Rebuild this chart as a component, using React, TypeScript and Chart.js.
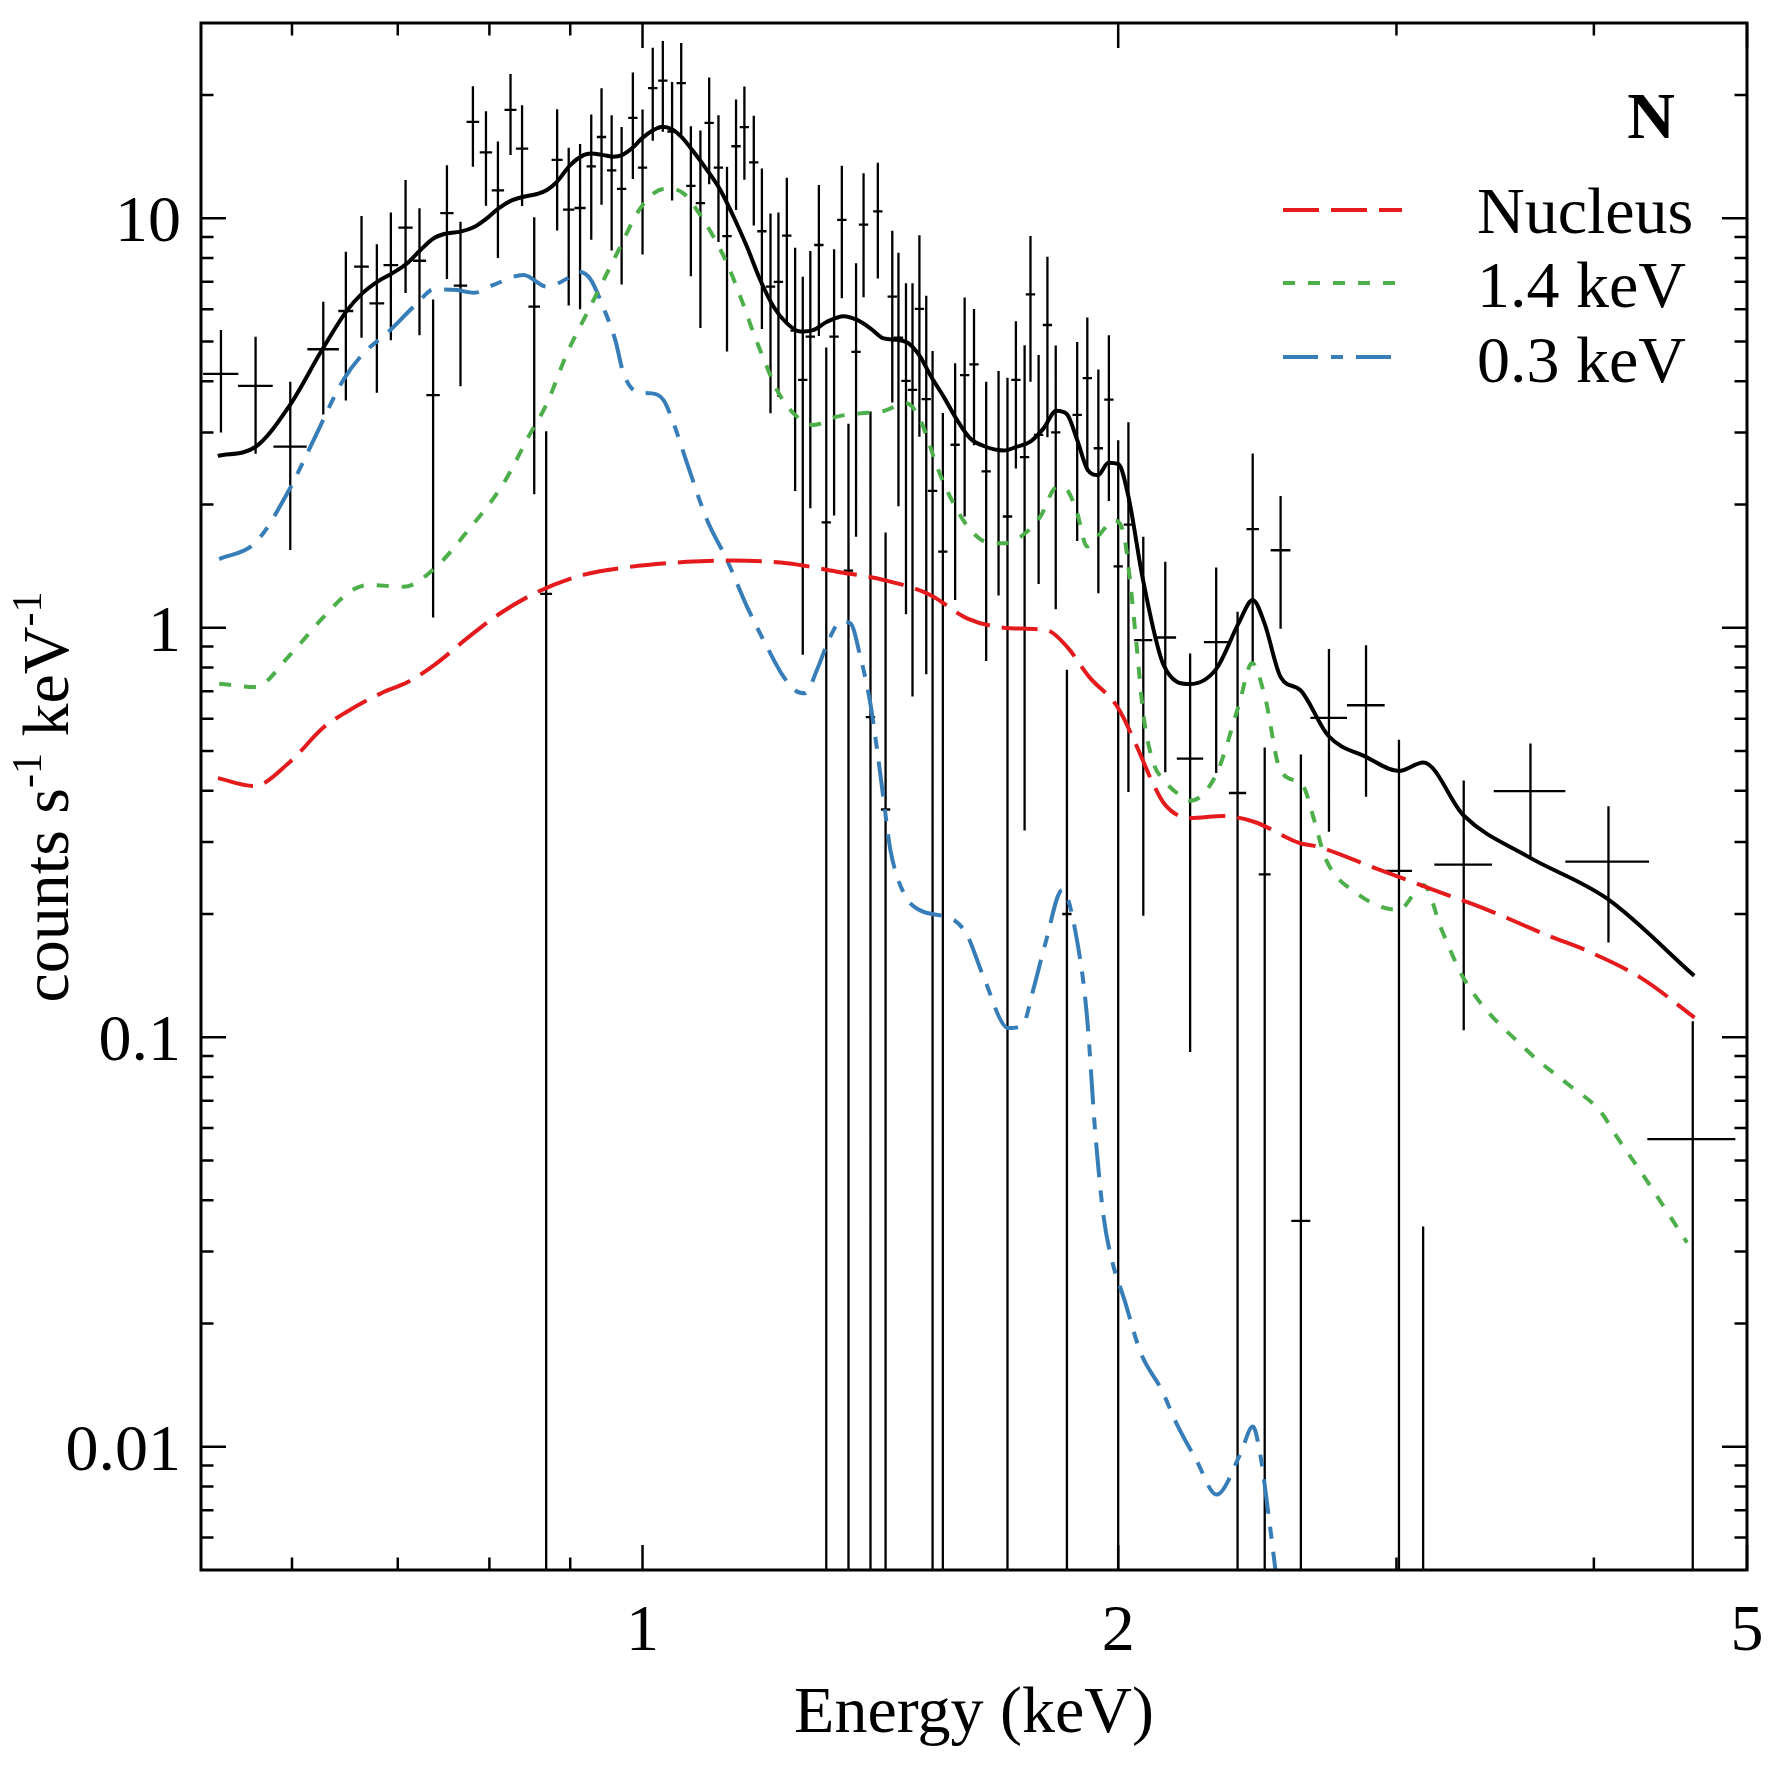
import { useEffect, useRef } from "react"
import { Chart, registerables } from "chart.js"

Chart.register(...registerables)

// Observed spectrum (bin centre, half-width, counts s^-1 keV^-1, 1-sigma error)
const energy = [
  0.541, 0.569, 0.5985, 0.628, 0.649, 0.664, 0.679, 0.693, 0.708, 0.7225, 0.737, 0.752, 0.767, 0.781, 0.796,
  0.81, 0.825, 0.839, 0.854, 0.869, 0.883, 0.898, 0.913, 0.928, 0.942, 0.956, 0.97, 0.986, 1.0, 1.015, 1.03,
  1.044, 1.058, 1.073, 1.088, 1.102, 1.117, 1.131, 1.146, 1.16, 1.176, 1.19, 1.205, 1.219, 1.234, 1.249, 1.263,
  1.277, 1.293, 1.307, 1.322, 1.337, 1.35, 1.365, 1.38, 1.394, 1.409, 1.425, 1.439, 1.452, 1.468, 1.482, 1.497,
  1.512, 1.526, 1.549, 1.577, 1.599, 1.621, 1.65, 1.68, 1.702, 1.723, 1.745, 1.76, 1.781, 1.804, 1.826, 1.856,
  1.884, 1.912, 1.943, 1.973, 2.0, 2.03, 2.0745, 2.142, 2.221, 2.307, 2.38, 2.433, 2.476, 2.534, 2.61, 2.719,
  2.87, 3.011, 3.119, 3.309, 3.647, 4.086, 4.62,
]
const energyErr = [
  0.0139, 0.0144, 0.0145, 0.0144, 0.0071, 0.0071, 0.0073, 0.0074, 0.0074, 0.007, 0.0072, 0.0073, 0.0075, 0.0072,
  0.0072, 0.0073, 0.0072, 0.0075, 0.0072, 0.0075, 0.0071, 0.0074, 0.0074, 0.0063, 0.0064, 0.0065, 0.0066, 0.0067,
  0.0068, 0.0069, 0.007, 0.0071, 0.0072, 0.0073, 0.0074, 0.0075, 0.0076, 0.0077, 0.0078, 0.0079, 0.008, 0.0081,
  0.0082, 0.0083, 0.0084, 0.0085, 0.0086, 0.0087, 0.0088, 0.0089, 0.009, 0.0091, 0.0092, 0.0093, 0.0094, 0.0095,
  0.0096, 0.0097, 0.0098, 0.0099, 0.01, 0.0101, 0.0102, 0.0103, 0.0104, 0.0105, 0.0107, 0.0109, 0.011, 0.0112,
  0.0114, 0.0116, 0.0117, 0.0119, 0.012, 0.0121, 0.0123, 0.0124, 0.0126, 0.0128, 0.013, 0.0132, 0.0134, 0.0136,
  0.0138, 0.0275, 0.034, 0.0427, 0.041, 0.03, 0.022, 0.0214, 0.0365, 0.036, 0.0725, 0.079, 0.058, 0.05, 0.139,
  0.19, 0.249, 0.296,
]
const counts = [
  4.17, 3.9, 2.77, 4.79, 5.94, 7.62, 6.2, 7.69, 9.49, 7.88, 3.7, 10.3, 6.85, 17.2, 14.5, 11.7, 18.4, 14.8, 6.09,
  1.21, 13.9, 10.5, 10.6, 13.4, 15.8, 13.1, 11.8, 17.6, 13.3, 20.8, 21.7, 16.3, 21.4, 12.0, 10.9, 17.1, 13.3,
  9.05, 15.0, 16.7, 13.7, 9.3, 6.81, 7.0, 9.07, 5.32, 4.03, 5.14, 8.61, 1.81, 5.14, 9.91, 1.38, 4.72, 9.65, 0.605,
  10.4, 0.36, 6.44, 5.11, 4.01, 3.81, 6.01, 3.62, 2.16, 1.535, 2.8, 4.14, 4.4, 2.41, 2.72, 1.87, 4.03, 2.61, 6.52,
  2.96, 5.49, 3.0, 0.2, 3.31, 4.07, 2.745, 3.61, 1.413, 1.787, 0.933, 0.947, 0.479, 0.923, 0.395, 1.741, 0.25,
  1.547, 0.0356, 0.6026, 0.647, 0.255, 0.004, 0.264, 0.399, 0.2685, 0.0564,
]
const countsErr = [
  1.17, 1.24, 1.22, 1.47, 2.35, 2.51, 2.45, 2.65, 2.92, 2.7, 2.64, 3.19, 2.96, 3.83, 3.77, 3.7, 4.12, 4.08, 3.97,
  1.81, 4.56, 4.37, 4.6, 4.53, 5.0, 4.75, 4.91, 5.12, 5.14, 5.32, 5.43, 5.24, 5.39, 4.78, 5.5, 4.98, 4.55, 4.32,
  4.52, 4.28, 4.1, 3.93, 3.47, 3.34, 3.49, 3.16, 3.17, 3.18, 3.45, 3.03, 3.26, 3.53, 1.77, 3.05, 3.23, 2.77, 3.27,
  1.35, 2.89, 3.13, 2.93, 3.13, 3.08, 2.85, 2.58, 1.81, 1.63, 2.27, 1.61, 1.58, 1.52, 2.21, 1.58, 2.29, 2.53, 1.68,
  2.57, 1.89, 0.59, 1.68, 1.66, 1.53, 1.57, 1.46, 1.39, 0.735, 0.503, 0.387, 0.481, 0.7, 0.925, 0.26, 0.552,
  0.455, 0.285, 0.26, 0.278, 0.0305, 0.16, 0.123, 0.098, 0.053,
]

// Total model
const totalEnergy = [
  0.5385, 0.5688, 0.5979, 0.6268, 0.6503, 0.6647, 0.6793, 0.6943, 0.7097, 0.7236, 0.7377, 0.7522, 0.767, 0.7818,
  0.797, 0.8108, 0.8246, 0.8409, 0.8575, 0.87, 0.8826, 0.9, 0.9176, 0.9276, 0.9448, 0.9586, 0.9705, 0.9847,
  0.9991, 1.0162, 1.0296, 1.0438, 1.0591, 1.0772, 1.0986, 1.12, 1.1419, 1.1644, 1.1871, 1.2104, 1.2343, 1.2585,
  1.2831, 1.3084, 1.3405, 1.367, 1.3937, 1.421, 1.4488, 1.4737, 1.499, 1.521, 1.5507, 1.5813, 1.6123, 1.6439,
  1.6925, 1.7258, 1.7596, 1.794, 1.8274, 1.8556, 1.884, 1.913, 1.9419, 1.9718, 2.0007, 2.0296, 2.0731, 2.1366,
  2.2204, 2.3073, 2.3842, 2.4331, 2.4747, 2.5351, 2.6074, 2.7164, 2.8697, 3.0106, 3.12, 3.3085, 3.6317, 4.0785,
  4.6297,
]
const totalCounts = [
  2.63, 2.764, 3.49, 4.77, 5.97, 6.56, 7.0, 7.34, 7.77, 8.37, 8.94, 9.19, 9.28, 9.51, 10.0, 10.58, 11.02, 11.29,
  11.47, 11.73, 12.28, 13.49, 14.27, 14.41, 14.27, 14.14, 14.27, 14.83, 15.68, 16.43, 16.74, 16.5, 15.77, 14.54,
  13.12, 11.73, 10.09, 8.52, 7.07, 6.085, 5.54, 5.29, 5.34, 5.59, 5.77, 5.65, 5.39, 5.09, 5.05, 4.95, 4.59, 4.14,
  3.67, 3.22, 2.9, 2.78, 2.71, 2.77, 2.85, 3.07, 3.39, 3.33, 2.875, 2.43, 2.36, 2.53, 2.51, 2.1, 1.316, 0.812,
  0.729, 0.794, 1.028, 1.17, 1.028, 0.756, 0.705, 0.545, 0.484, 0.447, 0.469, 0.348, 0.2766, 0.218, 0.1413,
]

// Nucleus component
const nucleusEnergy = [
  0.5386, 0.5677, 0.5984, 0.6278, 0.6496, 0.6863, 0.7098, 0.7385, 0.7763, 0.8115, 0.8583, 0.9172, 0.9808, 1.0666,
  1.1397, 1.2343, 1.3275, 1.421, 1.5208, 1.6044, 1.7086, 1.803, 1.8559, 1.9171, 1.9988, 2.056, 2.1014, 2.1416,
  2.2204, 2.3328, 2.4373, 2.603, 2.6752, 2.905, 3.1539, 3.425, 3.7547, 3.9476, 4.2864, 4.632,
]
const nucleusCounts = [
  0.4295, 0.411, 0.471, 0.57, 0.623, 0.698, 0.736, 0.812, 0.95, 1.081, 1.224, 1.347, 1.408, 1.449, 1.461, 1.438,
  1.371, 1.309, 1.203, 1.055, 0.998, 0.986, 0.9, 0.759, 0.639, 0.511, 0.421, 0.3695, 0.343, 0.347, 0.336, 0.2985,
  0.292, 0.2593, 0.2304, 0.2048, 0.1762, 0.1635, 0.1395, 0.1117,
]

// 1.4 keV thermal component
const hotEnergy = [
  0.5396, 0.5688, 0.5972, 0.6279, 0.6531, 0.6714, 0.706, 0.7382, 0.7763, 0.8162, 0.8469, 0.87, 0.8958, 0.9222,
  0.9402, 0.9681, 0.9919, 1.0162, 1.0362, 1.0614, 1.0825, 1.1089, 1.1309, 1.1532, 1.1757, 1.1986, 1.2163, 1.2461,
  1.283, 1.3275, 1.3735, 1.4145, 1.4701, 1.4988, 1.5208, 1.5358, 1.5813, 1.62, 1.6598, 1.7007, 1.7424, 1.7855,
  1.8295, 1.8563, 1.8836, 1.9111, 1.9486, 1.9867, 2.0158, 2.0357, 2.0556, 2.0755, 2.1058, 2.1366, 2.1787, 2.2204,
  2.3073, 2.3842, 2.4307, 2.4774, 2.5326, 2.617, 2.6607, 2.7046, 2.827, 3.0106, 3.12, 3.2062, 3.3136, 3.6351,
  3.8467, 4.037, 4.1367, 4.3217, 4.5816,
]
const hotCounts = [
  0.73, 0.717, 0.852, 1.06, 1.227, 1.273, 1.259, 1.395, 1.738, 2.245, 2.93, 3.534, 4.682, 5.864, 6.808, 8.523,
  10.28, 11.51, 11.83, 11.51, 10.48, 9.02, 7.77, 6.44, 5.24, 4.34, 3.81, 3.34, 3.13, 3.28, 3.34, 3.37, 3.53, 3.22,
  2.77, 2.475, 1.94, 1.7, 1.61, 1.61, 1.69, 1.87, 2.21, 2.17, 1.91, 1.58, 1.7, 1.83, 1.7, 1.285, 0.883, 0.607,
  0.467, 0.425, 0.395, 0.378, 0.439, 0.647, 0.82, 0.676, 0.449, 0.412, 0.34, 0.274, 0.2256, 0.2048, 0.2354, 0.182,
  0.138, 0.0923, 0.0771, 0.066, 0.0571, 0.0446, 0.0315,
]

// 0.3 keV thermal component
const coolEnergy = [
  0.5396, 0.5688, 0.5972, 0.6192, 0.6466, 0.6659, 0.689, 0.72, 0.7377, 0.7631, 0.7818, 0.8048, 0.8407, 0.87, 0.9,
  0.911, 0.9267, 0.9448, 0.961, 0.9727, 0.9919, 1.0113, 1.0311, 1.0462, 1.0688, 1.0986, 1.1309, 1.1644, 1.1986,
  1.228, 1.2523, 1.2676, 1.2893, 1.3148, 1.3341, 1.3537, 1.3735, 1.3937, 1.4075, 1.421, 1.435, 1.4631, 1.4962,
  1.5736, 1.6043, 1.6433, 1.704, 1.7404, 1.767, 1.7989, 1.8435, 1.888, 1.9111, 1.9343, 1.9578, 1.9815, 2.0178,
  2.067, 2.1303, 2.1788, 2.2405, 2.3085, 2.389, 2.4334, 2.46, 2.4851, 2.5194,
]
const coolCounts = [
  1.472, 1.614, 2.164, 2.875, 4.03, 4.68, 5.24, 6.2, 6.71, 6.68, 6.58, 6.88, 7.27, 6.81, 7.2, 7.41, 7.11, 6.04,
  5.05, 4.18, 3.77, 3.74, 3.6, 3.16, 2.475, 1.834, 1.465, 1.127, 0.9, 0.76, 0.699, 0.692, 0.789, 0.952, 1.035,
  1.026, 0.851, 0.654, 0.503, 0.38, 0.287, 0.225, 0.2048, 0.1936, 0.178, 0.1408, 0.1053, 0.1073, 0.1306, 0.17,
  0.229, 0.1635, 0.1124, 0.0584, 0.0365, 0.0286, 0.0229, 0.01694, 0.01378, 0.01134, 0.0093, 0.00764, 0.00957,
  0.0112, 0.00957, 0.00722, 0.00474,
]

const panelLabel = "N"
const legendLabels = ["Nucleus", "1.4 keV", "0.3 keV"]
const xMajorTicks = [1, 2, 5]
const xTickLabels = ["1", "2", "5"]
const xMinorTicks = [0.6, 0.7, 0.8, 0.9, 3, 4]
const yMajorTicks = [0.01, 0.1, 1, 10]
const yTickLabels = ["0.01", "0.1", "1", "10"]
const yMinorTicks = [
  0.006, 0.007, 0.008, 0.009, 0.02, 0.03, 0.04, 0.05, 0.06, 0.07, 0.08, 0.09, 0.2, 0.3, 0.4, 0.5, 0.6, 0.7, 0.8,
  0.9, 2, 3, 4, 5, 6, 7, 8, 9, 20,
]

const RED = "#e41a1c"
const GREEN = "#4daf4a"
const BLUE = "#377eb8"
const FONT = '"Liberation Serif", "Times New Roman", serif'

const pairs = (xs: number[], ys: number[]) => xs.map((x, i) => ({ x, y: ys[i] }))

const errorBars = {
  id: "errorBars",
  beforeDatasetsDraw(chart: any) {
    const { ctx, chartArea: a, scales } = chart
    const xs = scales.x
    const ys = scales.y
    ctx.save()
    ctx.beginPath()
    ctx.rect(a.left, a.top, a.right - a.left, a.bottom - a.top)
    ctx.clip()
    ctx.strokeStyle = "#000"
    ctx.lineWidth = 2.3
    ctx.beginPath()
    energy.forEach((e, i) => {
      const c = counts[i]
      const px = xs.getPixelForValue(e)
      const py = ys.getPixelForValue(c)
      const lo = c - countsErr[i]
      const yTop = ys.getPixelForValue(c + countsErr[i])
      const yBot = lo > 0 ? Math.min(ys.getPixelForValue(lo), a.bottom + 4) : a.bottom + 4
      ctx.moveTo(px, yTop)
      ctx.lineTo(px, yBot)
      ctx.moveTo(xs.getPixelForValue(e - energyErr[i]), py)
      ctx.lineTo(xs.getPixelForValue(e + energyErr[i]), py)
    })
    ctx.stroke()
    ctx.restore()
  },
}

const frame = {
  id: "frame",
  afterDraw(chart: any) {
    const { ctx, chartArea: a, scales } = chart
    const xs = scales.x
    const ys = scales.y
    ctx.save()
    ctx.strokeStyle = "#000"
    ctx.fillStyle = "#000"
    ctx.setLineDash([])

    // ticks, pointing inward on all four sides
    ctx.lineWidth = 2.5
    ctx.beginPath()
    const xTick = (v: number, len: number) => {
      const p = xs.getPixelForValue(v)
      ctx.moveTo(p, a.bottom)
      ctx.lineTo(p, a.bottom - len)
      ctx.moveTo(p, a.top)
      ctx.lineTo(p, a.top + len)
    }
    const yTick = (v: number, len: number) => {
      const p = ys.getPixelForValue(v)
      ctx.moveTo(a.left, p)
      ctx.lineTo(a.left + len, p)
      ctx.moveTo(a.right, p)
      ctx.lineTo(a.right - len, p)
    }
    xMajorTicks.forEach((v) => xTick(v, 25))
    xMinorTicks.forEach((v) => xTick(v, 12.5))
    yMajorTicks.forEach((v) => yTick(v, 25))
    yMinorTicks.forEach((v) => yTick(v, 12.5))
    ctx.stroke()

    ctx.lineWidth = 3
    ctx.strokeRect(a.left, a.top, a.right - a.left, a.bottom - a.top)

    // tick labels
    ctx.font = `66px ${FONT}`
    ctx.textBaseline = "alphabetic"
    ctx.textAlign = "center"
    xMajorTicks.forEach((v, i) => ctx.fillText(xTickLabels[i], xs.getPixelForValue(v), 1650))
    ctx.textAlign = "right"
    yMajorTicks.forEach((v, i) => ctx.fillText(yTickLabels[i], a.left - 20, ys.getPixelForValue(v) + 23))

    // axis titles
    ctx.textAlign = "center"
    ctx.fillText("Energy (keV)", (a.left + a.right) / 2, 1732)

    ctx.save()
    ctx.translate(68, 797)
    ctx.rotate(-Math.PI / 2)
    ctx.textAlign = "left"
    const parts: [string, boolean][] = [
      ["counts s", false],
      ["-1", true],
      [" keV", false],
      ["-1", true],
    ]
    const big = `66px ${FONT}`
    const small = `42px ${FONT}`
    let total = 0
    parts.forEach(([t, sup]) => {
      ctx.font = sup ? small : big
      total += ctx.measureText(t).width
    })
    let cx = -total / 2
    parts.forEach(([t, sup]) => {
      ctx.font = sup ? small : big
      ctx.fillText(t, cx, sup ? -27 : 0)
      cx += ctx.measureText(t).width
    })
    ctx.restore()

    // panel label and legend
    ctx.font = `bold 66px ${FONT}`
    ctx.textAlign = "right"
    ctx.fillText(panelLabel, 1675, 138)

    const styles = [
      { color: RED, dash: [36, 12], y: 210, base: 233 },
      { color: GREEN, dash: [12, 13], y: 283, base: 307 },
      { color: BLUE, dash: [35, 13, 12, 13], y: 357, base: 382 },
    ]
    ctx.font = `66px ${FONT}`
    ctx.textAlign = "left"
    styles.forEach((s, i) => {
      ctx.strokeStyle = s.color
      ctx.lineWidth = 4
      ctx.setLineDash(s.dash)
      ctx.beginPath()
      ctx.moveTo(1283, s.y)
      ctx.lineTo(1402, s.y)
      ctx.stroke()
      ctx.fillText(legendLabels[i], 1477, s.base)
    })
    ctx.restore()
  },
}

export default function App() {
  const chartRef = useRef<HTMLCanvasElement>(null)
  const chartInstance = useRef<Chart | null>(null)

  useEffect(() => {
    if (!chartRef.current) return
    if (chartInstance.current) chartInstance.current.destroy()

    const line = (data: { x: number; y: number }[], color: string, dash: number[]) => ({
      type: "line" as const,
      data,
      showLine: true,
      borderColor: color,
      borderWidth: 4,
      borderDash: dash,
      pointRadius: 0,
      cubicInterpolationMode: "monotone" as const,
      fill: false,
    })

    chartInstance.current = new Chart(chartRef.current, {
      type: "scatter",
      data: {
        datasets: [
          line(pairs(totalEnergy, totalCounts), "#000", []),
          line(pairs(nucleusEnergy, nucleusCounts), RED, [36, 12]),
          line(pairs(hotEnergy, hotCounts), GREEN, [12, 13]),
          line(pairs(coolEnergy, coolCounts), BLUE, [35, 13, 12, 13]),
          {
            type: "scatter" as const,
            data: pairs(energy, counts),
            pointRadius: 0,
          },
        ] as any,
      },
      options: {
        animation: false,
        responsive: true,
        maintainAspectRatio: false,
        devicePixelRatio: 1,
        layout: { padding: { left: 201, top: 23, right: 24, bottom: 201 } },
        scales: {
          x: { type: "logarithmic", min: 0.5255, max: 5, display: false },
          y: { type: "logarithmic", min: 0.005, max: 30, display: false },
        },
        plugins: {
          legend: { display: false },
          tooltip: { enabled: false },
        },
      },
      plugins: [errorBars, frame],
    })

    return () => {
      if (chartInstance.current) {
        chartInstance.current.destroy()
        chartInstance.current = null
      }
    }
  }, [])

  return (
    <div style={{ position: "fixed", left: 0, top: 0, width: 1771, height: 1771, background: "#fff" }}>
      <canvas ref={chartRef} />
    </div>
  )
}
